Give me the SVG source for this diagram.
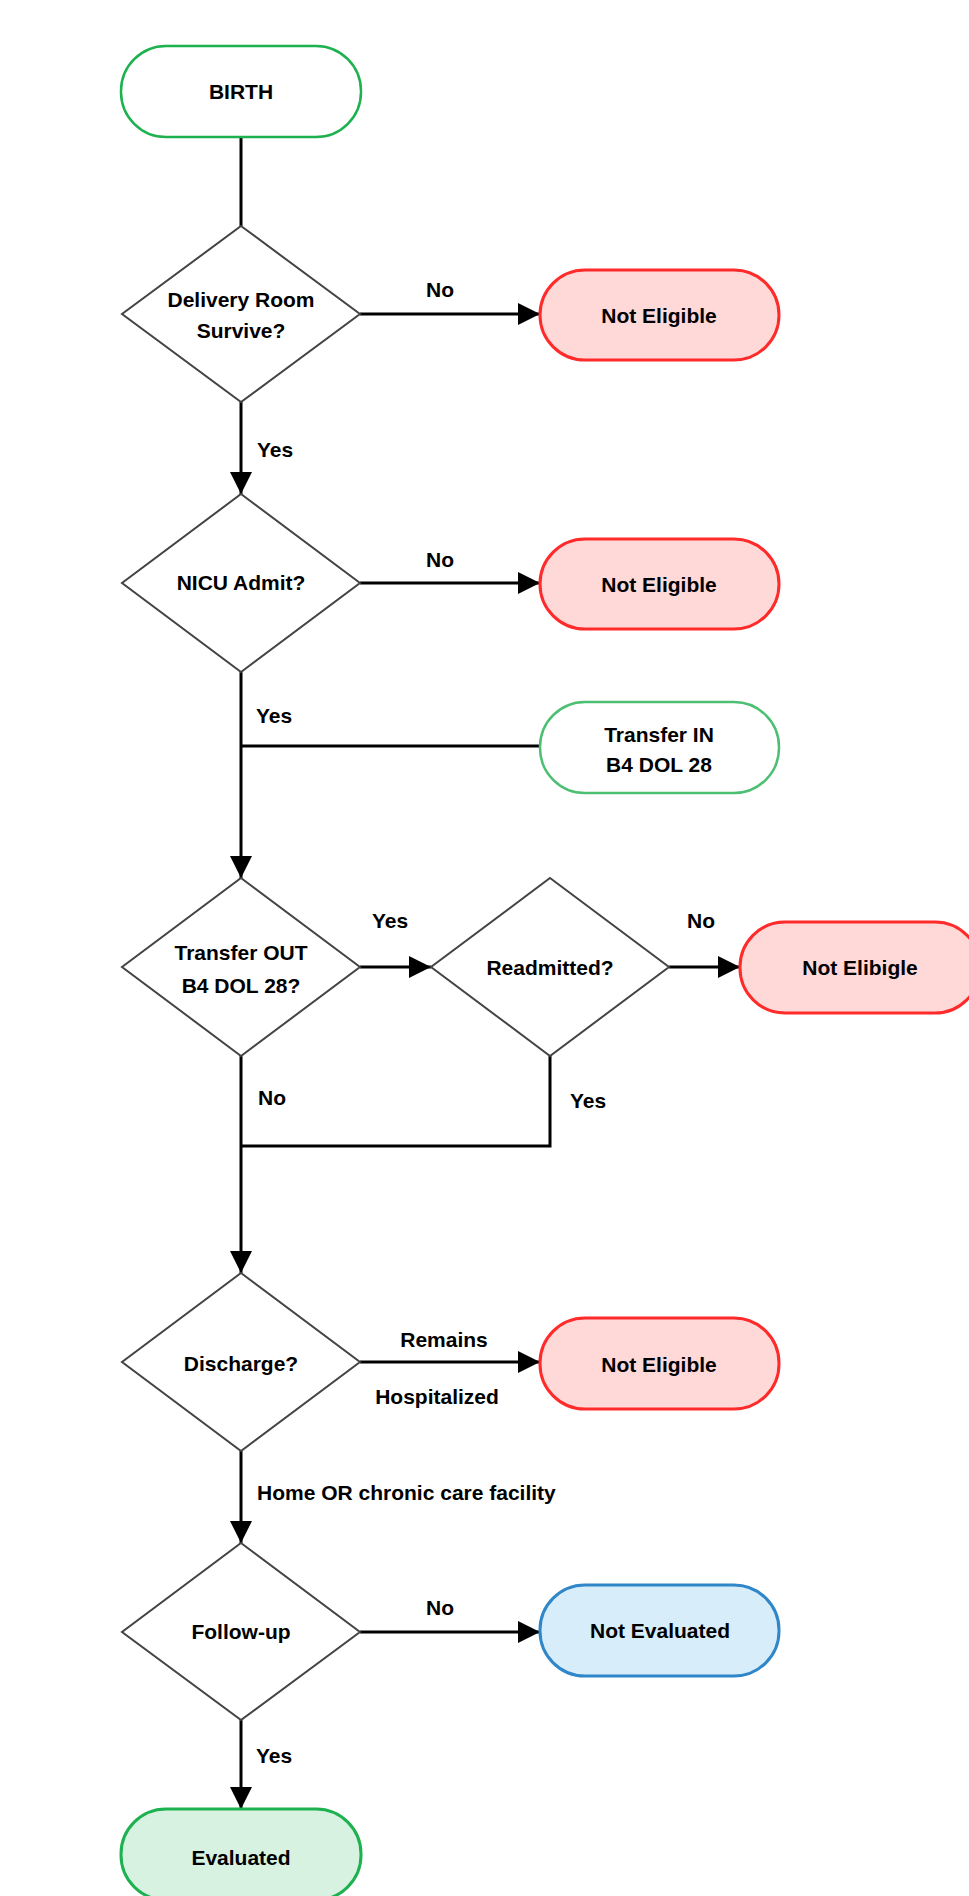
<svg xmlns="http://www.w3.org/2000/svg" width="969" height="1896" viewBox="0 0 969 1896">
<style>
text{font-family:"Liberation Sans",Arial,sans-serif;font-size:21px;font-weight:bold;fill:#000}
.c{text-anchor:middle}
.dia{fill:#fff;stroke:#444;stroke-width:2}
.ne{fill:#ffd8d8;stroke:#ff2a2a;stroke-width:3}
.gw{fill:#fff;stroke:#1db150;stroke-width:2.5}
.gl{fill:#fff;stroke:#4cbf72;stroke-width:2.5}
.ev{fill:#d8f2e2;stroke:#1db150;stroke-width:3}
.bl{fill:#d7eefa;stroke:#2f86c8;stroke-width:3}
.ln{fill:none;stroke:#000;stroke-width:3}
</style>
<defs>
<marker id="ah" markerUnits="userSpaceOnUse" markerWidth="22" markerHeight="22" viewBox="0 0 22 22" refX="22" refY="11" orient="auto">
<path d="M0,0 L22,11 L0,22 z" fill="#000"/>
</marker>
</defs>
<g id="connectors">
<line class="ln" x1="241" y1="137" x2="241" y2="226"/>
<line class="ln" x1="360" y1="314" x2="540" y2="314" marker-end="url(#ah)"/>
<line class="ln" x1="241" y1="402" x2="241" y2="494" marker-end="url(#ah)"/>
<line class="ln" x1="360" y1="583" x2="540" y2="583" marker-end="url(#ah)"/>
<line class="ln" x1="241" y1="672" x2="241" y2="878" marker-end="url(#ah)"/>
<line class="ln" x1="540" y1="746" x2="241" y2="746"/>
<line class="ln" x1="360" y1="967" x2="431" y2="967" marker-end="url(#ah)"/>
<line class="ln" x1="669" y1="967" x2="740" y2="967" marker-end="url(#ah)"/>
<line class="ln" x1="241" y1="1056" x2="241" y2="1273" marker-end="url(#ah)"/>
<polyline class="ln" points="550,1056 550,1146 241,1146"/>
<line class="ln" x1="360" y1="1362" x2="540" y2="1362" marker-end="url(#ah)"/>
<line class="ln" x1="241" y1="1451" x2="241" y2="1543" marker-end="url(#ah)"/>
<line class="ln" x1="360" y1="1632" x2="540" y2="1632" marker-end="url(#ah)"/>
<line class="ln" x1="241" y1="1720" x2="241" y2="1809" marker-end="url(#ah)"/>
<text class="c" x="440" y="297">No</text>
<text x="257" y="457">Yes</text>
<text class="c" x="440" y="567">No</text>
<text x="256" y="723">Yes</text>
<text class="c" x="390" y="928">Yes</text>
<text class="c" x="701" y="928">No</text>
<text x="258" y="1105">No</text>
<text x="570" y="1108">Yes</text>
<text class="c" x="444" y="1347">Remains</text>
<text class="c" x="437" y="1404">Hospitalized</text>
<text x="257" y="1500">Home OR chronic care facility</text>
<text class="c" x="440" y="1615">No</text>
<text x="256" y="1763">Yes</text>
</g>
<g id="birth"><rect class="gw" x="121" y="46" width="240" height="91" rx="45"/><text class="c" x="241" y="99">BIRTH</text></g>
<g id="d-delivery"><polygon class="dia" points="241,226 360,314 241,402 122,314"/><text class="c" x="241" y="307">Delivery Room</text><text class="c" x="241" y="338">Survive?</text></g>
<g id="ne1"><rect class="ne" x="540" y="270" width="239" height="90" rx="45"/><text class="c" x="659" y="323">Not Eligible</text></g>
<g id="d-nicu"><polygon class="dia" points="241,494 360,583 241,672 122,583"/><text class="c" x="241" y="590">NICU Admit?</text></g>
<g id="ne2"><rect class="ne" x="540" y="539" width="239" height="90" rx="45"/><text class="c" x="659" y="592">Not Eligible</text></g>
<g id="transfer-in"><rect class="gl" x="540" y="702" width="239" height="91" rx="45"/><text class="c" x="659" y="742">Transfer IN</text><text class="c" x="659" y="772">B4 DOL 28</text></g>
<g id="d-transfer-out"><polygon class="dia" points="241,878 360,967 241,1056 122,967"/><text class="c" x="241" y="960">Transfer OUT</text><text class="c" x="241" y="993">B4 DOL 28?</text></g>
<g id="d-readmitted"><polygon class="dia" points="550,878 669,967 550,1056 431,967"/><text class="c" x="550" y="975">Readmitted?</text></g>
<g id="ne-readmit"><rect class="ne" x="740" y="922" width="240" height="91" rx="45"/><text class="c" x="860" y="975">Not Elibigle</text></g>
<g id="d-discharge"><polygon class="dia" points="241,1273 360,1362 241,1451 122,1362"/><text class="c" x="241" y="1371">Discharge?</text></g>
<g id="ne3"><rect class="ne" x="540" y="1318" width="239" height="91" rx="45"/><text class="c" x="659" y="1372">Not Eligible</text></g>
<g id="d-followup"><polygon class="dia" points="241,1543 360,1632 241,1720 122,1632"/><text class="c" x="241" y="1639">Follow-up</text></g>
<g id="not-evaluated"><rect class="bl" x="540" y="1585" width="239" height="91" rx="45"/><text class="c" x="660" y="1638">Not Evaluated</text></g>
<g id="evaluated"><rect class="ev" x="121" y="1809" width="240" height="91" rx="45"/><text class="c" x="241" y="1865">Evaluated</text></g>
</svg>
